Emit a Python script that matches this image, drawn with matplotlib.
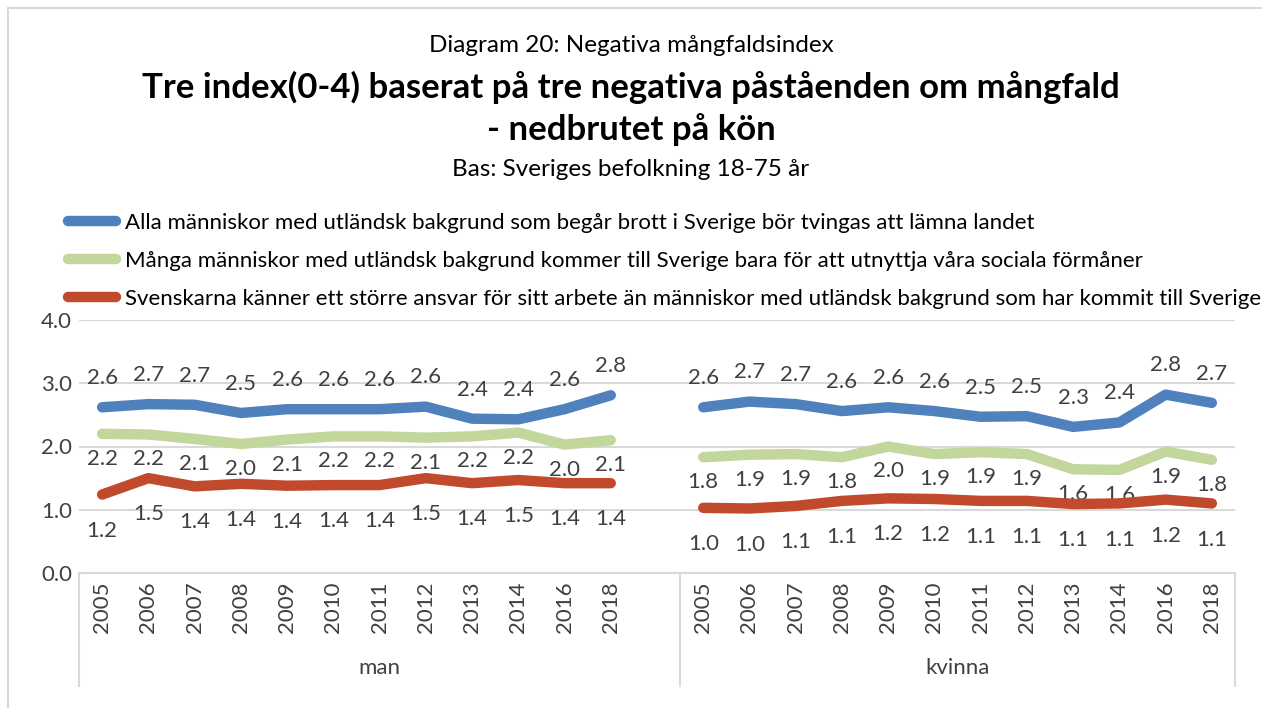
import matplotlib.pyplot as plt
from matplotlib.lines import Line2D
from matplotlib.patches import Rectangle
import matplotlib.transforms as mtransforms

plt.rcParams['font.family'] = ['Lato', 'DejaVu Sans']

# ---- data ----
years = ['2005', '2006', '2007', '2008', '2009', '2010', '2011', '2012',
         '2013', '2014', '2016', '2018']
groups = ['man', 'kvinna']

brott_man = [2.62, 2.67, 2.66, 2.53, 2.59, 2.59, 2.59, 2.63, 2.44, 2.43, 2.59, 2.81]
brott_kvinna = [2.62, 2.71, 2.67, 2.56, 2.62, 2.56, 2.47, 2.48, 2.31, 2.38, 2.82, 2.69]

formaner_man = [2.20, 2.19, 2.12, 2.04, 2.11, 2.16, 2.16, 2.14, 2.16, 2.22, 2.03, 2.10]
formaner_kvinna = [1.83, 1.87, 1.88, 1.83, 2.00, 1.88, 1.91, 1.88, 1.64, 1.63, 1.92, 1.79]

ansvar_man = [1.24, 1.50, 1.37, 1.41, 1.38, 1.39, 1.39, 1.50, 1.42, 1.47, 1.42, 1.42]
ansvar_kvinna = [1.03, 1.02, 1.06, 1.14, 1.18, 1.17, 1.14, 1.14, 1.09, 1.10, 1.16, 1.10]

legend_labels = [
    'Alla människor med utländsk bakgrund som begår brott i Sverige bör tvingas att lämna landet',
    'Många människor med utländsk bakgrund kommer till Sverige bara för att utnyttja våra sociala förmåner',
    'Svenskarna känner ett större ansvar för sitt arbete än människor med utländsk bakgrund som har kommit till Sverige',
]

blue = '#4F81BD'
green = '#C3D69B'
red = '#C24A2C'
lab_col = '#404040'
fs = 16

# series: (man, kvinna, colour, label offset in points)
series = [
    (brott_man, brott_kvinna, blue, 21),
    (formaner_man, formaner_kvinna, green, -18),
    (ansvar_man, ansvar_kvinna, red, -26),
]

fig = plt.figure(figsize=(12.62, 7.08), dpi=100)
# outer chart border (top and left visible)
fig.patches.append(Rectangle((8 / 1262, -0.05), 1.05, 1.05 - 8 / 708, transform=fig.transFigure,
                             fill=False, edgecolor='#D9D9D9', linewidth=1.5))

ax = fig.add_axes([79 / 1262, 1 - 573 / 708, (1235 - 79) / 1262, (573 - 320) / 708])

n = len(years)
x_man = list(range(n))
x_kv = [i + n + 1 for i in range(n)]

for man_vals, kv_vals, col, off in series:
    for xs, vals in ((x_man, man_vals), (x_kv, kv_vals)):
        ax.plot(xs, vals, color=col, linewidth=7.5, solid_capstyle='round',
                solid_joinstyle='round', zorder=3)
        for xv, v in zip(xs, vals):
            ax.annotate(f'{v:.1f}', (xv, v), xytext=(0, off), textcoords='offset points',
                        ha='center', va='center', fontsize=fs, color=lab_col)

ax.set_xlim(-0.5, 2 * n + 0.5)
ax.set_ylim(0, 4)
ax.set_yticks([0, 1, 2, 3, 4])
ax.set_yticklabels([f'{t:.1f}' for t in [0, 1, 2, 3, 4]], fontsize=fs, color='#404040')
ax.yaxis.grid(True, color='#D9D9D9', linewidth=1.5, zorder=0)
ax.set_axisbelow(True)
for s in ['top', 'right', 'left']:
    ax.spines[s].set_visible(False)
ax.spines['bottom'].set_color('#D9D9D9')
ax.spines['bottom'].set_linewidth(1.5)
ax.tick_params(axis='y', length=0, pad=5)
ax.tick_params(axis='x', length=0, pad=6)

ax.set_xticks(x_man + x_kv)
ax.set_xticklabels(years + years, rotation=90, fontsize=fs, color='#404040')

# category separators and group labels
trans = mtransforms.blended_transform_factory(ax.transData, ax.transAxes)
for xv in [-0.5, n + 0.5, 2 * n + 0.5]:
    ax.plot([xv, xv], [0, -0.445], transform=trans, color='#D9D9D9', linewidth=1.5,
            clip_on=False)
ax.text((n - 1) / 2 + 0.5, -0.375, groups[0], transform=trans, ha='center', va='center',
        fontsize=fs, color='#404040')
ax.text(n + 1 + (n - 1) / 2, -0.375, groups[1], transform=trans, ha='center', va='center',
        fontsize=fs, color='#404040')

# titles
fig.text(0.5, 1 - 45 / 708, 'Diagram 20: Negativa mångfaldsindex', ha='center', va='center',
         fontsize=17.5)
fig.text(0.5, 1 - 87 / 708, 'Tre index(0-4) baserat på tre negativa påståenden om mångfald',
         ha='center', va='center', fontsize=25, fontweight='bold')
fig.text(0.5, 1 - 130 / 708, '- nedbrutet på kön', ha='center', va='center', fontsize=25,
         fontweight='bold')
fig.text(0.5, 1 - 170 / 708, 'Bas: Sveriges befolkning 18-75 år', ha='center', va='center',
         fontsize=17.5)

handles = [Line2D([0], [0], color=c, linewidth=7.5, solid_capstyle='round')
           for c in (blue, green, red)]
fig.legend(handles, legend_labels, loc='upper left', bbox_to_anchor=(68 / 1262, 1 - 213 / 708),
           frameon=False, fontsize=fs, handlelength=2.15, handletextpad=0.4,
           labelspacing=0.8, borderpad=0, borderaxespad=0)

fig.savefig('out.png', dpi=100)
